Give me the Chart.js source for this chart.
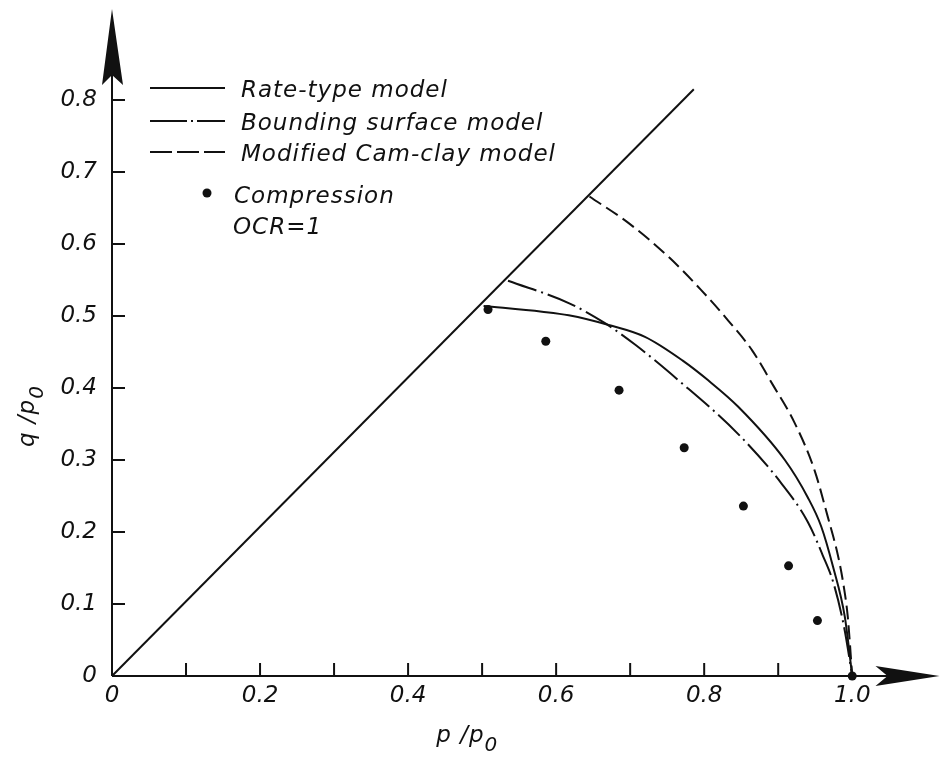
<!DOCTYPE html>
<html><head><meta charset="utf-8">
<script src="https://cdn.jsdelivr.net/npm/chart.js@4/dist/chart.umd.min.js"></script>
<style>html,body{margin:0;padding:0;background:#fff;}#wrap{width:942px;height:758px;position:relative;}</style>
</head><body><div id="wrap"><canvas id="c" width="942" height="758"></canvas></div>
<script>
// ---- data ----
const failureX = [0, 0.786];
const failureY = [0, 0.815];
const rateX = [0.502, 0.581, 0.617, 0.671, 0.720, 0.771, 0.805, 0.846, 0.909, 0.940, 0.958, 0.974, 0.990, 1.0];
const rateY = [0.514, 0.506, 0.501, 0.4875, 0.471, 0.438, 0.411, 0.374, 0.300, 0.248, 0.208, 0.152, 0.082, 0.0];
const boundX = [0.535, 0.617, 0.666, 0.707, 0.765, 0.846, 0.904, 0.940, 0.960, 0.975, 0.989, 1.0];
const boundY = [0.549, 0.518, 0.490, 0.460, 0.411, 0.336, 0.268, 0.214, 0.168, 0.128, 0.068, 0.0];
const camX = [0.645, 0.698, 0.752, 0.796, 0.833, 0.865, 0.893, 0.922, 0.949, 0.967, 0.981, 0.988, 0.994, 1.0];
const camY = [0.666, 0.629, 0.582, 0.536, 0.493, 0.452, 0.404, 0.352, 0.286, 0.221, 0.166, 0.128, 0.082, 0.0];
const compX = [0.508, 0.586, 0.685, 0.773, 0.853, 0.914, 0.953, 1.0];
const compY = [0.509, 0.465, 0.397, 0.317, 0.236, 0.153, 0.077, 0.0];
const xTickValues = [0, 0.1, 0.2, 0.3, 0.4, 0.5, 0.6, 0.7, 0.8, 0.9, 1.0];
const xTickLabels = ['0', '', '0.2', '', '0.4', '', '0.6', '', '0.8', '', '1.0'];
const yTickValues = [0, 0.1, 0.2, 0.3, 0.4, 0.5, 0.6, 0.7, 0.8];
const yTickLabels = ['0', '0.1', '0.2', '0.3', '0.4', '0.5', '0.6', '0.7', '0.8'];
const seriesNames = ['Rate-type model', 'Bounding surface model', 'Modified Cam-clay model', 'Compression'];
const noteText = 'OCR=1';
const xTitleParts = ['p /p', '0'];
const yTitleParts = ['q /p', '0'];
const xRange = [0, 1.1152];
const yRange = [0, 0.9264];

const FONT = 'DejaVu Sans';
const INK = '#111';
const pts = (xs, ys) => xs.map((v, i) => ({x: v, y: ys[i]}));
const noPad = s => { s.paddingTop = 0; s.paddingBottom = 0; s.paddingLeft = 0; s.paddingRight = 0; };

const decor = {
  id: 'decor',
  afterDatasetsDraw(chart) {
    const {ctx, scales: {x, y}} = chart;
    const x0 = x.getPixelForValue(0), y0 = y.getPixelForValue(0);
    const xEnd = x.getPixelForValue(x.max) + 2, yEnd = y.getPixelForValue(y.max);
    ctx.save();
    ctx.strokeStyle = INK; ctx.fillStyle = INK; ctx.lineWidth = 2; ctx.setLineDash([]);
    // axis lines
    ctx.beginPath();
    ctx.moveTo(x0, y0); ctx.lineTo(xEnd - 40, y0);
    ctx.moveTo(x0, y0); ctx.lineTo(x0, yEnd + 60);
    ctx.stroke();
    // arrows
    ctx.beginPath();
    ctx.moveTo(x0, yEnd); ctx.lineTo(x0 + 11, yEnd + 76); ctx.lineTo(x0, yEnd + 66); ctx.lineTo(x0 - 10, yEnd + 76); ctx.closePath();
    ctx.fill();
    ctx.beginPath();
    ctx.moveTo(xEnd, y0); ctx.lineTo(xEnd - 64, y0 - 10); ctx.lineTo(xEnd - 52, y0); ctx.lineTo(xEnd - 64, y0 + 10); ctx.closePath();
    ctx.fill();
    // inward tick marks
    ctx.beginPath();
    yTickValues.forEach(v => { if (v > 0) { const p = y.getPixelForValue(v); ctx.moveTo(x0, p); ctx.lineTo(x0 + 13, p); } });
    xTickValues.forEach(v => { if (v > 0 && v < 1) { const p = x.getPixelForValue(v); ctx.moveTo(p, y0); ctx.lineTo(p, y0 - 13); } });
    ctx.stroke();

    // axis titles
    ctx.font = 'italic 23px "' + FONT + '"';
    ctx.textAlign = 'left'; ctx.textBaseline = 'alphabetic';
    ctx.letterSpacing = '1px';
    const tx = x.getPixelForValue(0.438);
    ctx.fillText(xTitleParts[0], tx, 742);
    const w1 = ctx.measureText(xTitleParts[0]).width;
    ctx.font = 'italic 20px "' + FONT + '"';
    ctx.fillText(xTitleParts[1], tx + w1, 751);

    ctx.save();
    ctx.translate(34, y.getPixelForValue(0.318));
    ctx.rotate(-Math.PI / 2);
    ctx.font = 'italic 23px "' + FONT + '"';
    ctx.fillText(yTitleParts[0], 0, 0);
    const w2 = ctx.measureText(yTitleParts[0]).width;
    ctx.font = 'italic 20px "' + FONT + '"';
    ctx.fillText(yTitleParts[1], w2, 9);
    ctx.restore();

    // legend
    const rows = [88, 121, 152];
    const dashes = [[], [37, 4, 2, 4], [22, 5]];
    ctx.font = 'italic 23px "' + FONT + '"';
    for (let i = 0; i < 3; i++) {
      ctx.setLineDash(dashes[i]);
      ctx.lineWidth = 2;
      ctx.beginPath(); ctx.moveTo(150, rows[i]); ctx.lineTo(225, rows[i]); ctx.stroke();
      ctx.setLineDash([]);
      ctx.fillText(seriesNames[i], 241, rows[i] + 9);
    }
    ctx.beginPath(); ctx.arc(207, 193, 4.5, 0, Math.PI * 2); ctx.fill();
    ctx.fillText(seriesNames[3], 234, 203);
    ctx.fillText(noteText, 233, 234);
    ctx.restore();
  }
};

const lineBase = {borderColor: INK, borderWidth: 2, pointRadius: 0, fill: false, clip: false};

new Chart(document.getElementById('c'), {
  type: 'line',
  data: {
    datasets: [
      Object.assign({label: 'CSL', data: pts(failureX, failureY), tension: 0}, lineBase),
      Object.assign({label: seriesNames[0], data: pts(rateX, rateY), cubicInterpolationMode: 'monotone'}, lineBase),
      Object.assign({label: seriesNames[1], data: pts(boundX, boundY), cubicInterpolationMode: 'monotone', borderDash: [30, 5, 2, 5]}, lineBase),
      Object.assign({label: seriesNames[2], data: pts(camX, camY), cubicInterpolationMode: 'monotone', borderDash: [14, 6]}, lineBase),
      {label: seriesNames[3], data: pts(compX, compY), showLine: false, pointRadius: 4.5, pointBackgroundColor: INK, pointBorderColor: INK, pointBorderWidth: 0, clip: false}
    ]
  },
  options: {
    responsive: false, animation: false, devicePixelRatio: 1,
    layout: {padding: {top: 9, right: 2, left: 0, bottom: 0}},
    plugins: {legend: {display: false}, tooltip: {enabled: false}},
    scales: {
      x: {
        type: 'linear', min: xRange[0], max: xRange[1],
        grid: {display: false, drawTicks: false}, border: {display: false},
        afterFit: s => { s.height = 82; noPad(s); },
        afterBuildTicks: s => { s.ticks = xTickValues.map(v => ({value: v})); },
        ticks: {autoSkip: false, maxRotation: 0, padding: 6, color: INK,
          font: {family: FONT, size: 23, style: 'italic'},
          callback: (v, i) => xTickLabels[i]}
      },
      y: {
        type: 'linear', min: yRange[0], max: yRange[1],
        grid: {display: false, drawTicks: false}, border: {display: false},
        afterFit: s => { s.width = 112; noPad(s); },
        afterBuildTicks: s => { s.ticks = yTickValues.map(v => ({value: v})); },
        ticks: {autoSkip: false, padding: 15, color: INK,
          font: {family: FONT, size: 23, style: 'italic'},
          callback: (v, i) => yTickLabels[i]}
      }
    }
  },
  plugins: [decor]
});
</script></body></html>
